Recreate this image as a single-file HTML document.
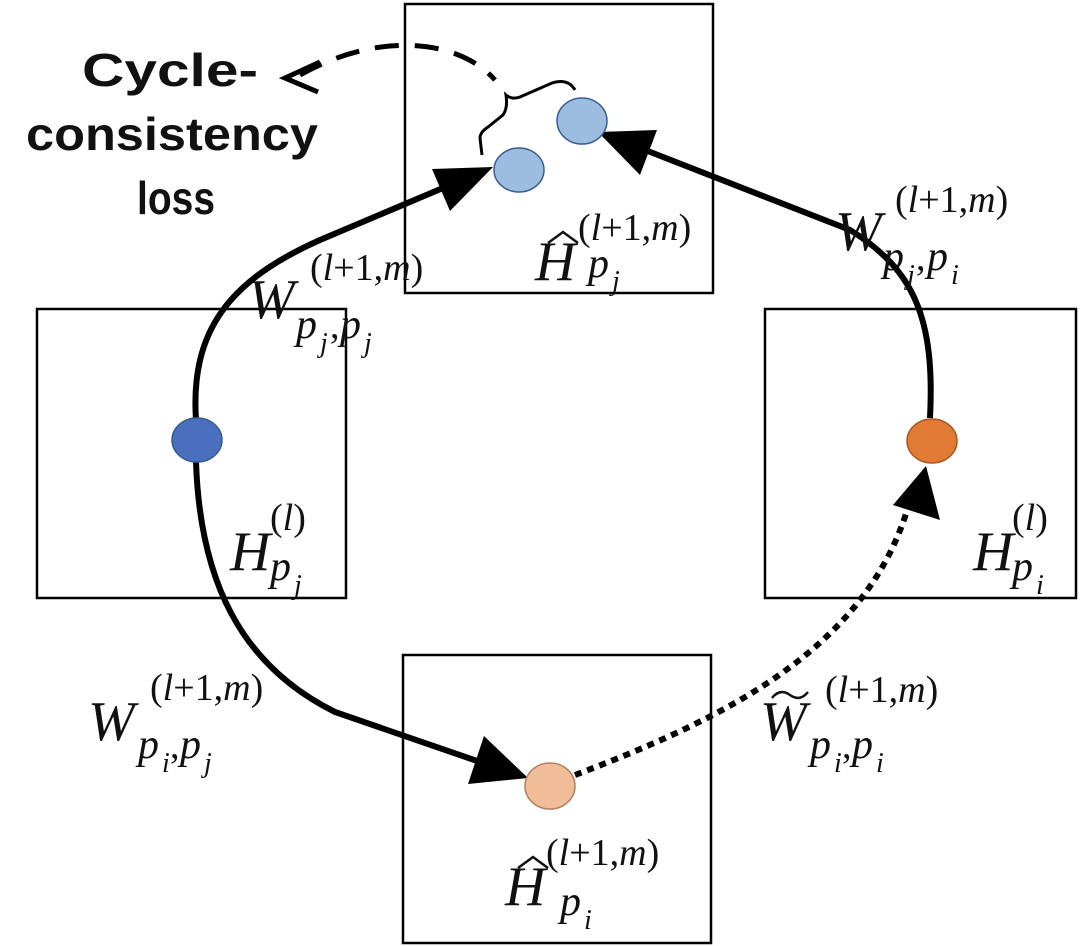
<!DOCTYPE html>
<html><head><meta charset="utf-8"><style>
html,body{margin:0;padding:0;background:#fff;width:1080px;height:946px;overflow:hidden}
svg text{font-family:"Liberation Serif",serif;font-style:italic;fill:#111}
.b{font-family:"Liberation Sans",sans-serif;font-style:normal;font-weight:bold;font-size:46px}
.up{font-style:normal}
</style></head><body>
<svg width="1080" height="946" viewBox="0 0 1080 946" xmlns="http://www.w3.org/2000/svg">
<g fill="none" stroke="#000" stroke-width="2.5">
<rect x="405" y="4" width="308" height="289"/>
<rect x="37" y="309" width="309" height="289"/>
<rect x="765" y="309" width="311" height="289"/>
<rect x="403" y="655" width="308" height="288"/>
</g>
<g fill="none" stroke="#000" stroke-width="6">
<path d="M196 420 C 190 330, 230 280, 320 240 L 450 185"/>
<path d="M196 462 C 200 580, 240 665, 335 712 L 480 762"/>
<path d="M930 418 C 935 320, 915 270, 850 230 L 640 148"/>
</g>
<path d="M575 775 C 720 720, 870 650, 910 500" fill="none" stroke="#000" stroke-width="6" stroke-dasharray="7,6"/>
<path d="M300 75 C 380 30, 460 40, 495 80" fill="none" stroke="#000" stroke-width="5" stroke-dasharray="24,16"/>
<path d="M320 62 L285 78 L318 92" fill="none" stroke="#000" stroke-width="5"/>
<path d="M482 155 L480 138 Q480 132 488 127 L503 115 Q508 108 506 95 Q512 100 520 97 L552 83 Q568 78 575 90" fill="none" stroke="#000" stroke-width="3"/>
<g fill="#000">
<polygon points="493,167 432,169 450,211"/>
<polygon points="598,132 657,130 640,175"/>
<polygon points="528,778 484,736 468,784"/>
<polygon points="926,466 893,505 940,520"/>
</g>
<g stroke="#3a5d8f" stroke-width="1.5">
<ellipse cx="197" cy="440" rx="25" ry="22" fill="#4a6fbf"/>
<ellipse cx="519" cy="170" rx="25" ry="22" fill="#9dbde0"/>
<ellipse cx="582" cy="121" rx="25" ry="23" fill="#9dbde0"/>
</g>
<ellipse cx="932" cy="441" rx="25" ry="22" fill="#e07a35" stroke="#a85a20" stroke-width="1.5"/>
<ellipse cx="550" cy="786" rx="25" ry="23" fill="#f1bd98" stroke="#b08060" stroke-width="1.5"/>
<text class="b" x="82" y="86" textLength="176" lengthAdjust="spacingAndGlyphs">Cycle-</text>
<text class="b" x="26" y="150" textLength="292" lengthAdjust="spacingAndGlyphs">consistency</text>
<text class="b" x="137" y="214" textLength="78" lengthAdjust="spacingAndGlyphs">loss</text>
<!-- top label -->
<text x="535" y="280" font-size="56">H</text>
<path d="M548 243 L563 232 L578 243" fill="none" stroke="#111" stroke-width="2.5"/>
<text x="578" y="240" font-size="38"><tspan class="up">(</tspan>l<tspan class="up">+1,</tspan>m<tspan class="up">)</tspan></text>
<text x="588" y="277" font-size="42">p</text><text x="612" y="290" font-size="28">j</text>
<!-- left W -->
<text x="248" y="318" font-size="56">W</text>
<text x="310" y="280" font-size="38"><tspan class="up">(</tspan>l<tspan class="up">+1,</tspan>m<tspan class="up">)</tspan></text>
<text x="296" y="338" font-size="42">p</text><text x="320" y="352" font-size="28">j</text><text x="330" y="338" font-size="38" class="up">,</text><text x="340" y="338" font-size="42">p</text><text x="364" y="352" font-size="28">j</text>
<!-- right W -->
<text x="835" y="250" font-size="56">W</text>
<text x="895" y="212" font-size="38"><tspan class="up">(</tspan>l<tspan class="up">+1,</tspan>m<tspan class="up">)</tspan></text>
<text x="883" y="270" font-size="42">p</text><text x="907" y="284" font-size="28">j</text><text x="916" y="270" font-size="38" class="up">,</text><text x="927" y="270" font-size="42">p</text><text x="951" y="284" font-size="28">i</text>
<!-- H left -->
<text x="230" y="570" font-size="56">H</text>
<text x="270" y="530" font-size="38"><tspan class="up">(</tspan>l<tspan class="up">)</tspan></text>
<text x="270" y="580" font-size="42">p</text><text x="294" y="594" font-size="28">j</text>
<!-- H right -->
<text x="973" y="570" font-size="56">H</text>
<text x="1012" y="530" font-size="38"><tspan class="up">(</tspan>l<tspan class="up">)</tspan></text>
<text x="1012" y="580" font-size="42">p</text><text x="1036" y="594" font-size="28">i</text>
<!-- bottom left W -->
<text x="88" y="740" font-size="56">W</text>
<text x="150" y="700" font-size="38"><tspan class="up">(</tspan>l<tspan class="up">+1,</tspan>m<tspan class="up">)</tspan></text>
<text x="138" y="758" font-size="42">p</text><text x="162" y="772" font-size="28">i</text><text x="170" y="758" font-size="38" class="up">,</text><text x="180" y="758" font-size="42">p</text><text x="204" y="772" font-size="28">j</text>
<!-- bottom right W tilde -->
<text x="760" y="740" font-size="56">W</text>
<path d="M772 698 Q780 688 790 695 Q800 702 808 692" fill="none" stroke="#111" stroke-width="2.5"/>
<text x="825" y="702" font-size="38"><tspan class="up">(</tspan>l<tspan class="up">+1,</tspan>m<tspan class="up">)</tspan></text>
<text x="810" y="758" font-size="42">p</text><text x="834" y="772" font-size="28">i</text><text x="842" y="758" font-size="38" class="up">,</text><text x="852" y="758" font-size="42">p</text><text x="876" y="772" font-size="28">i</text>
<!-- bottom H -->
<text x="505" y="905" font-size="56">H</text>
<path d="M518 868 L533 857 L548 868" fill="none" stroke="#111" stroke-width="2.5"/>
<text x="546" y="865" font-size="38"><tspan class="up">(</tspan>l<tspan class="up">+1,</tspan>m<tspan class="up">)</tspan></text>
<text x="560" y="915" font-size="42">p</text><text x="584" y="929" font-size="28">i</text>
</svg>
</body></html>
